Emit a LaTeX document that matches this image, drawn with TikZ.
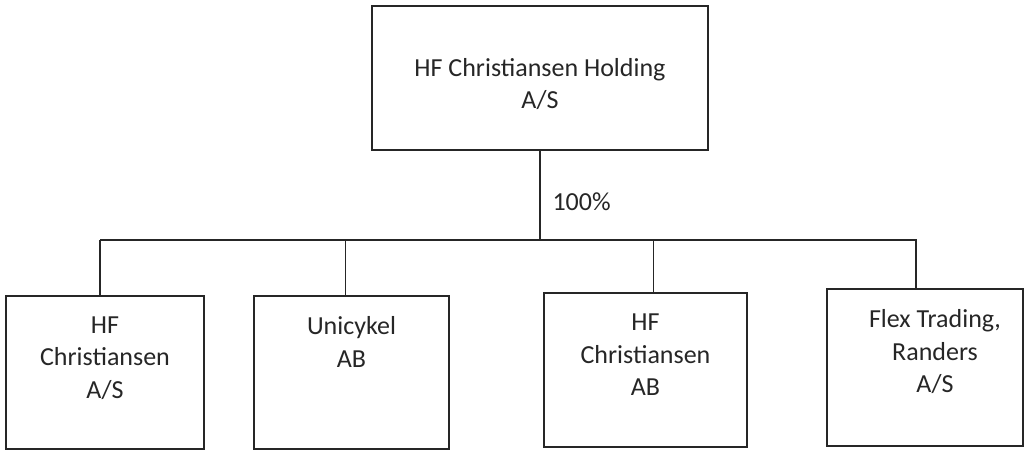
\documentclass[tikz,border=0pt]{standalone}
\usepackage{fontspec}
\setmainfont{Carlito}
\usetikzlibrary{positioning}
\usetikzlibrary{calc}

\begin{document}
\begin{tikzpicture}[x=1pt, y=-1pt, company/.style = {rectangle, draw=black!85, line width=1.4pt, inner sep=0pt},firmtext/.style = {align=center, font=\fontsize{26}{32.5}\selectfont, text=black!85},link/.style = {draw=black!85, line width=1.4pt}]
	\useasboundingbox (0,0) rectangle (1027,450);
	\node[company, minimum width=336pt, minimum height=144pt] (holding) at (540,78) {};
	\node[firmtext] (holdingname) at (540,84) {HF Christiansen Holding\\A/S};
	\node[company, minimum width=198pt, minimum height=153pt] (hfas) at (105,372.5) {};
	\node[firmtext] (hfasname) at (105,358) {HF\\Christiansen\\A/S};
	\node[company, minimum width=195pt, minimum height=153pt] (uni) at (351.5,372.5) {};
	\node[firmtext] (uniname) at (351.5,342) {Unicykel\\AB};
	\node[company, minimum width=203pt, minimum height=154pt] (hfab) at (645.5,370) {};
	\node[firmtext] (hfabname) at (645.5,355) {HF\\Christiansen\\AB};
	\node[company, minimum width=196pt, minimum height=157pt] (flex) at (925,367.5) {};
	\node[firmtext] (flexname) at (935,352) {Flex Trading,\\Randers\\A/S};
	\node[firmtext, anchor=west] (share) at (549,202) {100\%};
	\coordinate (barleft) at (100,240);
	\coordinate (barright) at (917,240);
	\draw[link] (barleft) -- (barright);
	\draw[link] (holding.south) -- (holding.south |- barleft);
	\draw[link] ([xshift=-5pt]hfas.north) -- ([xshift=-5pt]hfas.north |- barleft);
	\draw[link] ([xshift=-6pt]uni.north) -- ([xshift=-6pt]uni.north |- barleft);
	\draw[link] ([xshift=8pt]hfab.north) -- ([xshift=8pt]hfab.north |- barleft);
	\draw[link] ([xshift=-9pt]flex.north) -- ([xshift=-9pt]flex.north |- barleft);
\end{tikzpicture}
\end{document}
